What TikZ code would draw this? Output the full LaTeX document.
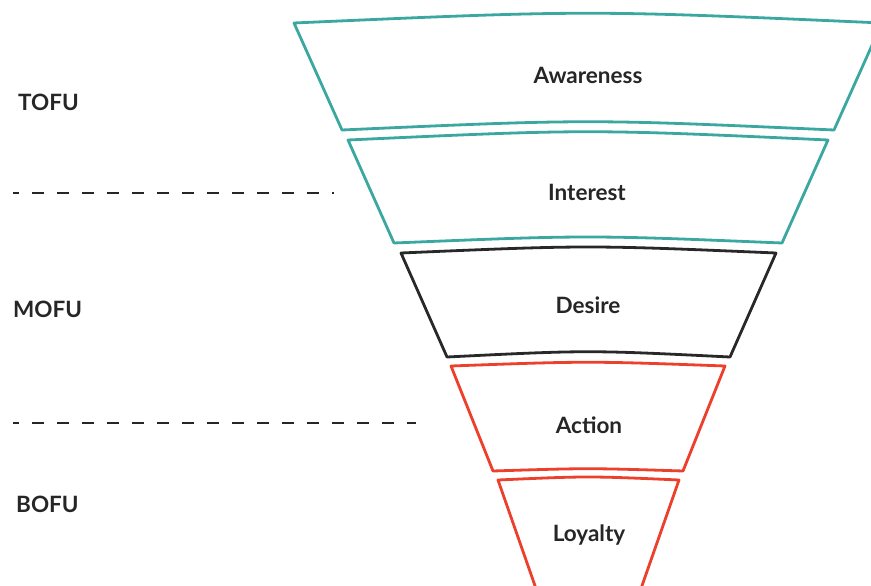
\documentclass[tikz,border=0pt]{standalone}
\usepackage{fontspec}
\setmainfont{Lato}
\definecolor{funnelteal}{RGB}{58,168,160}
\definecolor{funneldark}{RGB}{40,40,40}
\definecolor{funnelred}{RGB}{236,64,44}
\definecolor{labelgray}{RGB}{38,38,38}
\tikzset{
    stage/.style={line width=2.8pt, line join=round, fill=white},
    stagetext/.style={font=\bfseries\fontsize{22.5}{26}\selectfont, text=labelgray, inner sep=0pt},
    levelname/.style={font=\bfseries\fontsize{22.5}{26}\selectfont, text=labelgray, anchor=west, inner sep=0pt},
    divider/.style={line width=2.8pt, dash pattern=on 12pt off 13pt, dash phase=6pt, labelgray}
}
\begin{document}
\begin{tikzpicture}[x=1pt,y=-1pt]
        \useasboundingbox (0,0) rectangle (871,586);
        \clip (0,0) rectangle (871,586);
        %% Funnel stages
        \draw[stage,draw=funnelteal] (294,23) .. controls (588,10) .. (882,23) -- (834,130)
            .. controls (588,119) .. (342,130) -- cycle;
        \draw[stage,draw=funnelteal] (348,140) .. controls (588,129) .. (828,140) -- (782,243)
            .. controls (588,235) .. (394,243) -- cycle;
        \draw[stage,draw=funneldark] (401,253) .. controls (588,245) .. (776,253) -- (730,357)
            .. controls (588,350) .. (447,357) -- cycle;
        \draw[stage,draw=funnelred] (451,366) .. controls (588,361) .. (725,366) -- (683,471)
            .. controls (588,468) .. (493,471) -- cycle;
        \draw[stage,draw=funnelred] (498,480) .. controls (588,476) .. (679,480) -- (637,600)
            -- (540,600) -- cycle;
        %% Stage names
        \node[stagetext] (awareness) at (588,75) {Awareness};
        \node[stagetext] (interest) at (587,192) {Interest};
        \node[stagetext] (desire) at (588,305) {Desire};
        \node[stagetext] (action) at (589,425) {Action};
        \node[stagetext] (loyalty) at (589,535) {Loyalty};
        %% Funnel levels
        \node[levelname] (tofu) at (18,102) {TOFU};
        \node[levelname] (mofu) at (13,309) {MOFU};
        \node[levelname] (bofu) at (16,504) {BOFU};
        %% Dividers
        \coordinate (topdivl) at (13,193);
        \coordinate (topdivr) at (334,193);
        \coordinate (botdivl) at (13,423);
        \coordinate (botdivr) at (416,423);
        \draw[divider] (topdivl) -- (topdivr);
        \draw[divider] (botdivl) -- (botdivr);
    \end{tikzpicture}
\end{document}
